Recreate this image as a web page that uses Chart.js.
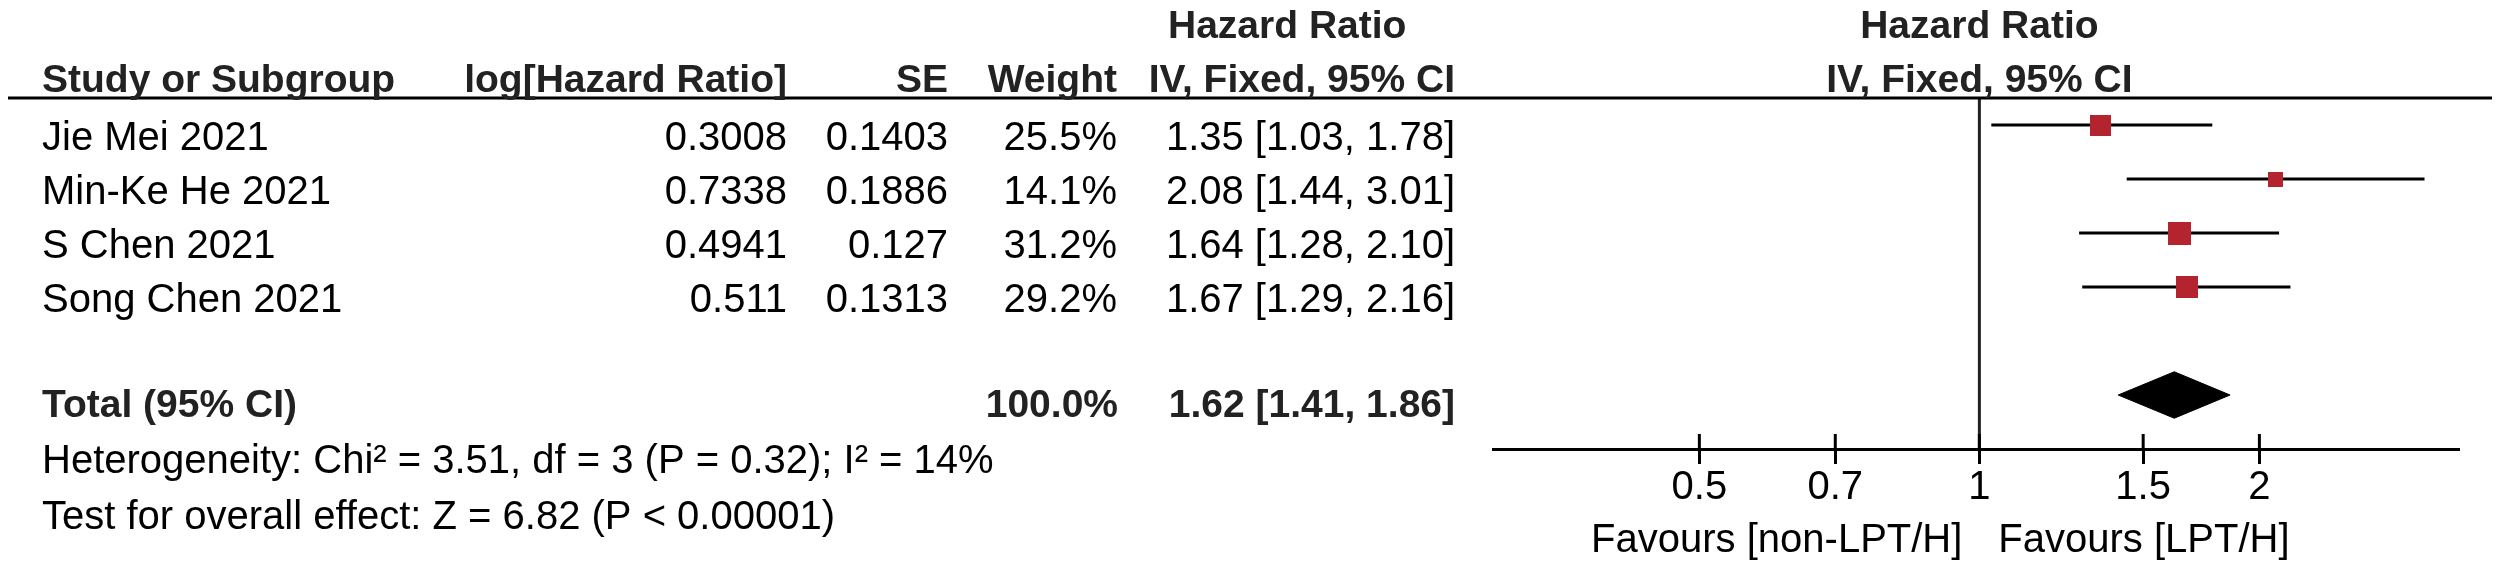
<!DOCTYPE html>
<html>
<head>
<meta charset="utf-8">
<style>
  html, body { margin: 0; padding: 0; background: #fff; }
  #wrap { width: 2500px; height: 568px; }
</style>
<script src="https://cdn.jsdelivr.net/npm/chart.js@4.4.1/dist/chart.umd.min.js"></script>
</head>
<body>
<div id="wrap"><canvas id="forest" width="2500" height="568"></canvas></div>
<script>
// data
const studies = ['Jie Mei 2021', 'Min-Ke He 2021', 'S Chen 2021', 'Song Chen 2021'];
const logHR = [0.3008, 0.7338, 0.4941, 0.511];
const seVals = [0.1403, 0.1886, 0.127, 0.1313];
const weights = [25.5, 14.1, 31.2, 29.2];
const hrVals = [1.35, 2.08, 1.64, 1.67];
const ciLow = [1.03, 1.44, 1.28, 1.29];
const ciHigh = [1.78, 3.01, 2.10, 2.16];
const totalHR = [1.62, 1.41, 1.86]; // estimate, low, high
const totalWeight = 100.0;
const tickVals = [0.5, 0.7, 1, 1.5, 2];
const heterogeneity = 'Heterogeneity: Chi\u00b2 = 3.51, df = 3 (P = 0.32); I\u00b2 = 14%';
const overallTest = 'Test for overall effect: Z = 6.82 (P < 0.00001)';
const favourLeft = 'Favours [non-LPT/H]';
const favourRight = 'Favours [LPT/H]';

// row positions (y scale units)
const rowY = studies.map((s, i) => i + 1);
const totalRow = 6;

const FONT = "'Liberation Sans', Arial, sans-serif";
const RED = '#b3242e';

// square markers, area follows weight
function boxStyle(w) {
  const side = Math.round(4.1 * Math.sqrt(w));
  const c = document.createElement('canvas');
  c.width = side; c.height = side;
  const g = c.getContext('2d');
  g.fillStyle = RED;
  g.fillRect(0, 0, side, side);
  return c;
}

const ciSets = studies.map((s, i) => ({
  type: 'line',
  data: [{ x: ciLow[i], y: rowY[i] }, { x: ciHigh[i], y: rowY[i] }],
  borderColor: '#000',
  borderWidth: 3,
  pointRadius: 0,
  order: 1
}));

const dh = 0.43; // half height of the diamond, in rows
const diamond = {
  type: 'line',
  data: [
    { x: totalHR[1], y: totalRow },
    { x: totalHR[0], y: totalRow - dh },
    { x: totalHR[2], y: totalRow },
    { x: totalHR[0], y: totalRow + dh },
    { x: totalHR[1], y: totalRow }
  ],
  borderColor: '#000',
  backgroundColor: '#000',
  borderWidth: 1,
  pointRadius: 0,
  fill: 'shape',
  tension: 0,
  order: 0
};

const nullLine = {
  type: 'line',
  data: [{ x: 1, y: 0.5 }, { x: 1, y: 7 }],
  borderColor: '#222',
  borderWidth: 3,
  pointRadius: 0,
  order: 2
};

const boxes = {
  type: 'scatter',
  data: hrVals.map((v, i) => ({ x: v, y: rowY[i] })),
  pointStyle: weights.map(boxStyle),
  pointRadius: 5,
  order: 0
};

// table text, header rule and full axis ticks
const tablePlugin = {
  id: 'table',
  afterDraw(chart) {
    const ctx = chart.ctx;
    const xs = chart.scales.x;
    const ys = chart.scales.y;
    const top = chart.chartArea.top;
    const axisY = chart.chartArea.bottom;
    const x1 = xs.getPixelForValue(1);
    const bold = '39px ' + FONT;
    ctx.save();

    // rule under the header
    ctx.strokeStyle = '#000';
    ctx.lineWidth = 3;
    ctx.beginPath();
    ctx.moveTo(8, top);
    ctx.lineTo(2492, top);
    ctx.stroke();

    // upper half of the tick marks
    ctx.lineWidth = 3;
    tickVals.forEach(v => {
      const px = xs.getPixelForValue(v);
      ctx.beginPath();
      ctx.moveTo(px, axisY - 15);
      ctx.lineTo(px, axisY);
      ctx.stroke();
    });

    const txt = (s, x, y, align, font, color) => {
      ctx.font = font;
      ctx.textAlign = align;
      ctx.fillStyle = color || '#000';
      ctx.fillText(s, x, y);
    };

    // headers
    txt('Hazard Ratio', 1168, 38, 'left', 'bold ' + bold, '#222');
    txt('Study or Subgroup', 42, 92, 'left', 'bold ' + bold, '#222');
    txt('log[Hazard Ratio]', 787, 92, 'right', 'bold ' + bold, '#222');
    txt('SE', 948, 92, 'right', 'bold ' + bold, '#222');
    txt('Weight', 1117, 92, 'right', 'bold ' + bold, '#222');
    txt('IV, Fixed, 95% CI', 1455, 92, 'right', 'bold ' + bold, '#222');
    txt('Hazard Ratio', x1, 38, 'center', 'bold ' + bold, '#222');
    txt('IV, Fixed, 95% CI', x1, 92, 'center', 'bold ' + bold, '#222');

    // study rows
    const reg = '40px ' + FONT;
    studies.forEach((s, i) => {
      const by = ys.getPixelForValue(rowY[i]) + 25;
      txt(s, 42, by, 'left', reg);
      txt(String(logHR[i]), 787, by, 'right', reg);
      txt(String(seVals[i]), 948, by, 'right', reg);
      txt(weights[i].toFixed(1) + '%', 1117, by, 'right', reg);
      txt(hrVals[i].toFixed(2) + ' [' + ciLow[i].toFixed(2) + ', ' + ciHigh[i].toFixed(2) + ']', 1455, by, 'right', reg);
    });

    // total row
    const ty = ys.getPixelForValue(totalRow) + 22;
    txt('Total (95% CI)', 42, ty, 'left', 'bold ' + bold, '#222');
    txt(totalWeight.toFixed(1) + '%', 1118, ty, 'right', 'bold ' + bold, '#222');
    txt(totalHR[0].toFixed(2) + ' [' + totalHR[1].toFixed(2) + ', ' + totalHR[2].toFixed(2) + ']', 1455, ty, 'right', 'bold ' + bold, '#222');
    txt(heterogeneity, 42, 473, 'left', reg);
    txt(overallTest, 42, 529, 'left', reg);

    // favours labels
    txt(favourLeft, x1 - 17, 552, 'right', reg);
    txt(favourRight, x1 + 19, 552, 'left', reg);
    ctx.restore();
  }
};

Chart.defaults.font.family = FONT;
Chart.defaults.color = '#000';

new Chart(document.getElementById('forest'), {
  type: 'scatter',
  data: { datasets: [boxes, diamond].concat(ciSets, [nullLine]) },
  options: {
    responsive: false,
    animation: false,
    devicePixelRatio: 1,
    layout: { padding: { left: 1493, right: 42, top: 98, bottom: 56 } },
    plugins: { legend: { display: false }, tooltip: { enabled: false } },
    scales: {
      x: {
        type: 'logarithmic',
        min: 0.31,
        max: 3.27,
        afterBuildTicks: scale => { scale.ticks = tickVals.map(v => ({ value: v })); },
        ticks: {
          font: { size: 40 },
          color: '#000',
          padding: 0,
          autoSkip: false,
          maxRotation: 0,
          callback: v => String(v)
        },
        grid: { drawOnChartArea: false, drawTicks: true, tickLength: 15, color: '#000', lineWidth: 3 },
        border: { display: true, color: '#000', width: 3 }
      },
      y: {
        type: 'linear',
        display: false,
        reverse: true,
        min: 0.5,
        max: 7
      }
    }
  },
  plugins: [tablePlugin]
});
</script>
</body>
</html>
